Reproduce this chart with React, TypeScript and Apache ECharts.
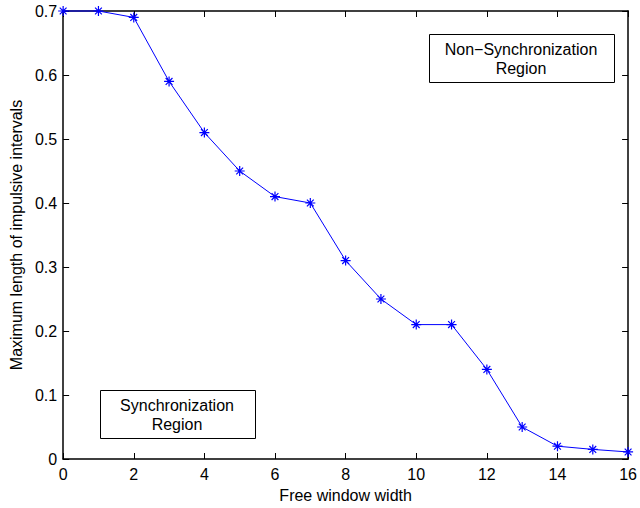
import React, { useEffect, useRef } from "react";
import * as echarts from "echarts";

const xValues = [0, 1, 2, 3, 4, 5, 6, 7, 8, 9, 10, 11, 12, 13, 14, 15, 16];
const yValues = [0.7, 0.7, 0.69, 0.59, 0.51, 0.45, 0.41, 0.4, 0.31, 0.25, 0.21, 0.21, 0.14, 0.05, 0.02, 0.015, 0.011];
const xLabel = "Free window width";
const yLabel = "Maximum length of impulsive intervals";
const boxTop = ["Non\u2212Synchronization", "Region"];
const boxBottom = ["Synchronization", "Region"];

const FONT = "Liberation Sans, Arial, Helvetica, sans-serif";
const asterisk = "path://M0 5L10 5M5 0L5 10M1.6 1.6L8.4 8.4M1.6 8.4L8.4 1.6";

export default function App() {
  const ref = useRef<HTMLDivElement>(null);
  useEffect(() => {
    if (!ref.current) return;
    const chart = echarts.init(ref.current, null, { renderer: "svg" });
    const axisLine = { show: true, onZero: false, lineStyle: { color: "#000", width: 1.5 } };
    const tick = { show: true, inside: true, length: 6, lineStyle: { color: "#000", width: 1 } };
    chart.setOption({
      animation: false,
      backgroundColor: "#fff",
      grid: { left: 63, top: 11, right: 9, bottom: 49, containLabel: false },
      xAxis: [
        {
          type: "value", min: 0, max: 16, interval: 2,
          axisLine, axisTick: tick, splitLine: { show: false },
          axisLabel: { color: "#000", fontSize: 16, fontFamily: FONT, margin: 7 },
          name: xLabel, nameLocation: "middle", nameGap: 28,
          nameTextStyle: { color: "#000", fontSize: 16, fontFamily: FONT },
        },
        {
          type: "value", position: "top", min: 0, max: 16, interval: 2,
          axisLine, axisTick: tick, splitLine: { show: false }, axisLabel: { show: false },
        },
      ],
      yAxis: [
        {
          type: "value", min: 0, max: 0.7, interval: 0.1,
          axisLine, axisTick: tick, splitLine: { show: false },
          axisLabel: { color: "#000", fontSize: 16, fontFamily: FONT, margin: 6, formatter: (v: number) => (v === 0 ? "0" : v.toFixed(1)) },
          name: yLabel, nameLocation: "middle", nameGap: 38,
          nameTextStyle: { color: "#000", fontSize: 16, fontFamily: FONT },
        },
        {
          type: "value", position: "right", min: 0, max: 0.7, interval: 0.1,
          axisLine, axisTick: tick, splitLine: { show: false }, axisLabel: { show: false },
        },
      ],
      series: [
        {
          type: "line",
          data: xValues.map((x, i) => [x, yValues[i]]),
          lineStyle: { color: "#0000ff", width: 1 },
          symbol: asterisk,
          symbolSize: 10,
          showAllSymbol: true,
          itemStyle: { color: "none", borderColor: "#0000ff", borderWidth: 1.2 },
          clip: false,
          z: 5,
        },
      ],
      graphic: [
        {
          type: "rect", shape: { x: 429.5, y: 34.5, width: 185, height: 48 },
          style: { fill: "#fff", stroke: "#000", lineWidth: 1 }, z: 10,
        },
        {
          type: "text", x: 521, y: 59, z: 11,
          style: { text: boxTop.join("\n"), fill: "#000", font: `16px ${FONT}`, align: "center", verticalAlign: "middle", lineHeight: 19 },
        },
        {
          type: "rect", shape: { x: 100.5, y: 390.5, width: 155, height: 48 },
          style: { fill: "#fff", stroke: "#000", lineWidth: 1 }, z: 10,
        },
        {
          type: "text", x: 177, y: 415, z: 11,
          style: { text: boxBottom.join("\n"), fill: "#000", font: `16px ${FONT}`, align: "center", verticalAlign: "middle", lineHeight: 19 },
        },
      ],
    });
    return () => chart.dispose();
  }, []);
  return <div ref={ref} style={{ width: 640, height: 508, position: "absolute", left: 0, top: 0 }} />;
}
